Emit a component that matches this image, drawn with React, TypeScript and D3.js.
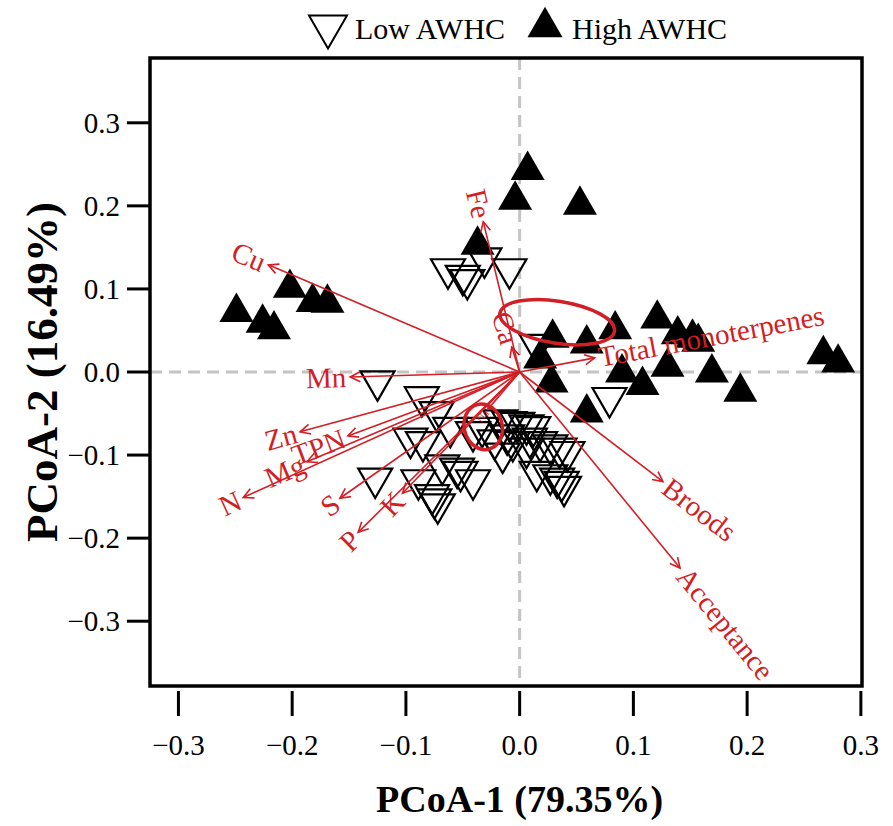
import React from 'react';
import * as d3 from 'd3';

const width = 893;
const height = 826;
const box = { left: 150, right: 862, top: 58, bottom: 686 };
const red = '#d21f26';
const font = 'Liberation Serif, Tinos, Times New Roman, serif';

const xTicks = [-0.3, -0.2, -0.1, 0.0, 0.1, 0.2, 0.3];
const yTicks = [0.3, 0.2, 0.1, 0.0, -0.1, -0.2, -0.3];

// High AWHC samples (filled, pointing up)
const highX = [0.007, -0.004, 0.053, -0.037, -0.249, -0.202, -0.226, -0.216, -0.182, -0.169,
  0.029, 0.059, 0.084, 0.121, 0.139, 0.152, 0.157, 0.018, 0.028, 0.090,
  0.108, 0.130, 0.169, 0.194, 0.267, 0.280, 0.059];
const highY = [0.249, 0.213, 0.207, 0.159, 0.078, 0.107, 0.065, 0.057, 0.090, 0.089,
  0.047, 0.040, 0.057, 0.070, 0.051, 0.047, 0.042, 0.022, -0.007, 0.005,
  -0.010, 0.012, 0.005, -0.018, 0.027, 0.017, -0.043];

// Low AWHC samples (open, pointing down)
const lowX = [-0.063, -0.050, -0.046, -0.031, -0.009, -0.125, -0.086, -0.073, -0.096, -0.085,
  -0.061, -0.041, -0.033, -0.127, -0.089, -0.055, -0.052, -0.041, -0.077, -0.075,
  -0.072, -0.017, -0.009, -0.002, 0.006, 0.012, -0.011, -0.006, 0.006, 0.009,
  0.018, 0.027, 0.035, 0.042, 0.015, 0.027, 0.033, 0.037, 0.039, 0.079,
  0.015, -0.068, -0.022, -0.015];
const lowY = [0.118, 0.110, 0.105, 0.131, 0.118, -0.017, -0.036, -0.054, -0.086, -0.090,
  -0.073, -0.078, -0.073, -0.134, -0.136, -0.122, -0.126, -0.136, -0.154, -0.159,
  -0.165, -0.064, -0.066, -0.067, -0.070, -0.072, -0.082, -0.090, -0.098, -0.086,
  -0.090, -0.094, -0.098, -0.102, -0.126, -0.130, -0.134, -0.138, -0.144, -0.037,
  0.027, -0.118, -0.088, -0.104];

// fitted vectors
const vecNames = ['Fe', 'Cu', 'Mn', 'Zn', 'TPN', 'Mg', 'N', 'S', 'P', 'K',
  'Broods', 'Acceptance', 'Total monoterpenes', 'Ca', 'Na'];
const vecX = [-0.032, -0.221, -0.149, -0.193, -0.151, -0.187, -0.243, -0.158, -0.142, -0.103,
  0.126, 0.141, 0.066, -0.007, -0.028];
const vecY = [0.181, 0.129, -0.006, -0.072, -0.077, -0.108, -0.151, -0.152, -0.193, -0.146,
  -0.132, -0.236, 0.017, 0.030, -0.045];

// group ellipses
const ellCx = [0.033, -0.032];
const ellCy = [0.060, -0.066];
const ellRx = [0.051, 0.0167];
const ellRy = [0.0253, 0.0277];
const ellAngle = [9, -15];

// triangle centred on its bounding box
const triangleUp = {
  draw(ctx: any, size: number) {
    const w = Math.sqrt(size);
    const h = w * 0.866;
    ctx.moveTo(0, -h / 2);
    ctx.lineTo(w / 2, h / 2);
    ctx.lineTo(-w / 2, h / 2);
    ctx.closePath();
  },
};
const triangleDown = {
  draw(ctx: any, size: number) {
    const w = Math.sqrt(size);
    const h = w * 0.866;
    ctx.moveTo(0, h / 2);
    ctx.lineTo(w / 2, -h / 2);
    ctx.lineTo(-w / 2, -h / 2);
    ctx.closePath();
  },
};

const App = () => {
  const x = d3.scaleLinear().domain([-0.325, 0.301]).range([box.left, box.right]);
  const y = d3.scaleLinear().domain([-0.378, 0.378]).range([box.bottom, box.top]);
  const fmt = d3.format('.1f');

  const upPath = d3.symbol().type(triangleUp as any).size(34 * 34)() as string;
  const downPath = d3.symbol().type(triangleDown as any).size(34 * 34)() as string;
  const legendDown = d3.symbol().type(triangleDown as any).size(38 * 38)() as string;
  const legendUp = d3.symbol().type(triangleUp as any).size(35 * 35)() as string;

  const x0 = x(0);
  const y0 = y(0);

  return (
    <svg width={width} height={height} style={{ display: 'block', position: 'absolute', left: 0, top: 0, fontFamily: font }}>
      <rect width={width} height={height} fill="white" />

      {/* legend */}
      <g>
        <path d={legendDown} transform="translate(328,32)" fill="none" stroke="black" strokeWidth={2} />
        <text x={355} y={39} fontSize={30}>Low AWHC</text>
        <path d={legendUp} transform="translate(545,22)" fill="black" />
        <text x={572} y={39} fontSize={30}>High AWHC</text>
      </g>

      {/* zero lines */}
      <line x1={box.left} x2={box.right} y1={y0} y2={y0} stroke="#c4c4c4" strokeWidth={3} strokeDasharray="12 7" />
      <line x1={x0} x2={x0} y1={box.top} y2={box.bottom} stroke="#c4c4c4" strokeWidth={3} strokeDasharray="12 7" />

      {/* samples */}
      {lowX.map((v, i) => (
        <path key={'l' + i} d={downPath} transform={`translate(${x(v)},${y(lowY[i])})`}
          fill="none" stroke="black" strokeWidth={2.2} strokeLinejoin="miter" />
      ))}
      {highX.map((v, i) => (
        <path key={'h' + i} d={upPath} transform={`translate(${x(v)},${y(highY[i])})`} fill="black" />
      ))}

      {/* vectors */}
      {vecNames.map((name, i) => {
        const tx = x(vecX[i]);
        const ty = y(vecY[i]);
        const dx = tx - x0;
        const dy = ty - y0;
        const len = Math.hypot(dx, dy);
        const ux = dx / len;
        const uy = dy / len;
        const ang = (Math.atan2(dy, dx) * 180) / Math.PI;
        const left = ux < 0;
        const rot = left ? ang + 180 : ang;
        const tiny = name === 'Na';
        const gap = tiny ? 2 : 4;
        const head = tiny ? 4 : 10;
        const hw = tiny ? 2.5 : 5;
        // open arrow head
        const hx1 = tx - ux * head - uy * hw;
        const hy1 = ty - uy * head + ux * hw;
        const hx2 = tx - ux * head + uy * hw;
        const hy2 = ty - uy * head - ux * hw;
        return (
          <g key={name}>
            <line x1={x0} y1={y0} x2={tx} y2={ty} stroke={red} strokeWidth={1.6} />
            <path d={`M${hx1},${hy1}L${tx},${ty}L${hx2},${hy2}`} fill="none" stroke={red} strokeWidth={1.6} />
            <text
              transform={`translate(${tx + ux * gap},${ty + uy * gap}) rotate(${rot})`}
              textAnchor={left ? 'end' : 'start'}
              dominantBaseline="central"
              fontSize={tiny ? 11 : 29}
              fill={red}
            >
              {name}
            </text>
          </g>
        );
      })}

      {/* ellipses */}
      {ellCx.map((cx, i) => (
        <ellipse key={'e' + i}
          transform={`translate(${x(cx)},${y(ellCy[i])}) rotate(${ellAngle[i]})`}
          rx={x(ellRx[i]) - x(0)} ry={y(0) - y(ellRy[i])}
          fill="none" stroke={red} strokeWidth={3.5} />
      ))}

      {/* frame */}
      <rect x={box.left} y={box.top} width={box.right - box.left} height={box.bottom - box.top}
        fill="none" stroke="black" strokeWidth={3.5} />

      {/* x axis */}
      {xTicks.map(t => (
        <g key={'x' + t} transform={`translate(${x(t)},0)`}>
          <line y1={box.bottom + 5} y2={box.bottom + 30} stroke="black" strokeWidth={3} />
          <text y={745} textAnchor="middle" dominantBaseline="central" fontSize={29}>{fmt(t)}</text>
        </g>
      ))}
      <text x={x0} y={812} textAnchor="middle" fontSize={38} fontWeight="bold">PCoA-1 (79.35%)</text>

      {/* y axis */}
      {yTicks.map(t => (
        <g key={'y' + t} transform={`translate(0,${y(t)})`}>
          <line x1={box.left - 23} x2={box.left} stroke="black" strokeWidth={3} />
          <text x={120} textAnchor="end" dominantBaseline="central" fontSize={29}>{fmt(t)}</text>
        </g>
      ))}
      <text transform={`translate(57,${y0}) rotate(-90)`} textAnchor="middle" fontSize={45} fontWeight="bold">
        PCoA-2 (16.49%)
      </text>
    </svg>
  );
};

export default App;
